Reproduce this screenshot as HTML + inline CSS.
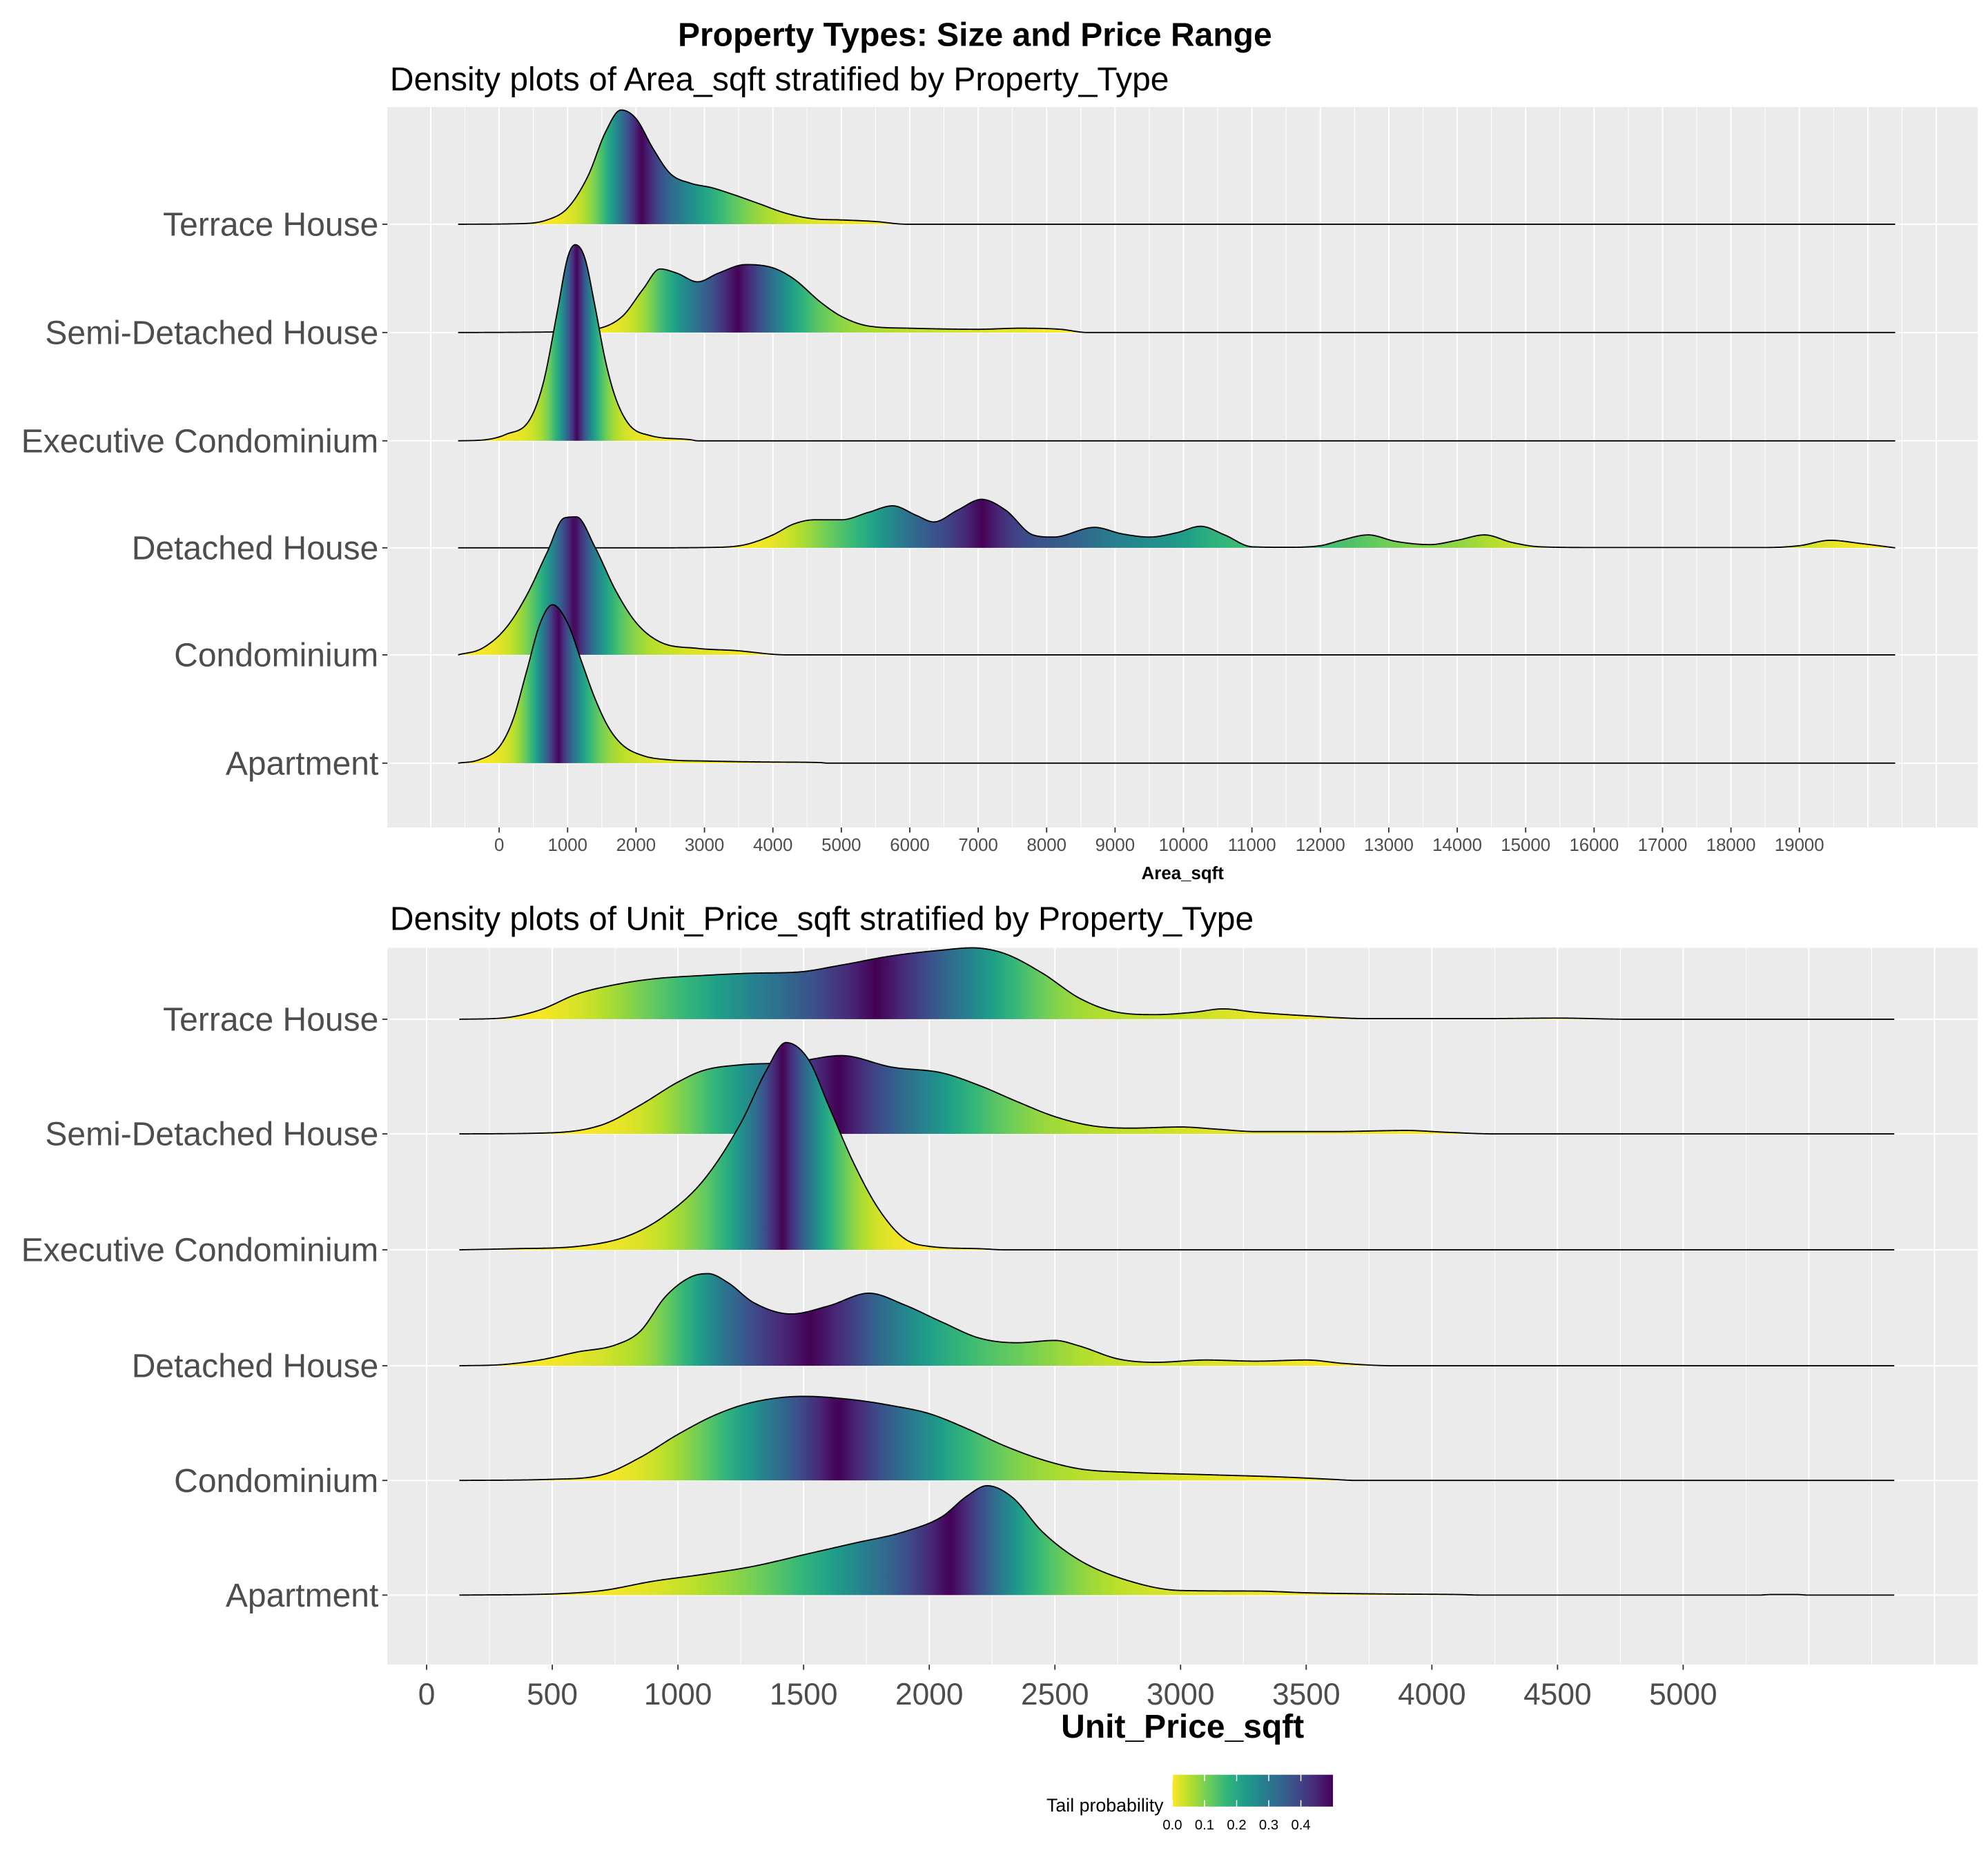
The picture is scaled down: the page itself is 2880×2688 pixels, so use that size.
<!DOCTYPE html>
<html><head><meta charset="utf-8"><title>Property Types: Size and Price Range</title>
<style>html,body{margin:0;padding:0;background:#fff}svg{display:block}text{font-family:"Liberation Sans",Arial,sans-serif}</style>
</head><body>
<svg id="chart" xmlns="http://www.w3.org/2000/svg" width="2880" height="2688" viewBox="0 0 1560 1456" preserveAspectRatio="none">
<text x="765" y="36" font-size="26" font-weight="bold" text-anchor="middle">Property Types: Size and Price Range</text>
<text x="306" y="71" font-size="26">Density plots of Area_sqft stratified by Property_Type</text>
<text x="306" y="730" font-size="26">Density plots of Unit_Price_sqft stratified by Property_Type</text>
<g id="p1"></g>
<g id="p2"></g>
<g id="legend">
<defs><linearGradient id="lgbar" x1="0" x2="1" y1="0" y2="0">
<stop offset="0" stop-color="#FDE725"/><stop offset="0.111" stop-color="#B4DE2C"/><stop offset="0.222" stop-color="#6DCD59"/><stop offset="0.333" stop-color="#35B779"/><stop offset="0.444" stop-color="#1F9E89"/><stop offset="0.556" stop-color="#26828E"/><stop offset="0.667" stop-color="#31688E"/><stop offset="0.778" stop-color="#3E4A89"/><stop offset="0.889" stop-color="#482878"/><stop offset="1" stop-color="#440154"/></linearGradient></defs>
<text x="913" y="1422" font-size="14.5" text-anchor="end">Tail probability</text>
<rect x="920" y="1393" width="126" height="25" fill="url(#lgbar)"/>
<g id="legticks"></g>
</g>
</svg>
<script>
// ---------- data ----------
const categories = ["Terrace House","Semi-Detached House","Executive Condominium","Detached House","Condominium","Apartment"];
const areaTicks = [0,1000,2000,3000,4000,5000,6000,7000,8000,9000,10000,11000,12000,13000,14000,15000,16000,17000,18000,19000];
const priceTicks = [0,500,1000,1500,2000,2500,3000,3500,4000,4500,5000];
const legendTicks = [0.0,0.1,0.2,0.3,0.4];
// density curves [value, relative height (1 = row spacing)]
const areaTerrace = [[-600,0],[300,0.005],[700,0.04],[1000,0.15],[1300,0.45],[1550,0.85],[1780,1.06],[2000,0.98],[2250,0.7],[2500,0.47],[2800,0.38],[3100,0.34],[3400,0.28],[3800,0.19],[4200,0.1],[4600,0.05],[5000,0.04],[5500,0.025],[5950,0],[20400,0]];
const areaSemi = [[-600,0],[800,0.005],[1400,0.03],[1800,0.15],[2100,0.4],[2350,0.59],[2600,0.55],[2900,0.47],[3200,0.55],[3600,0.63],[4000,0.6],[4300,0.5],[4700,0.28],[5000,0.15],[5400,0.06],[6000,0.04],[7000,0.03],[7600,0.04],[8200,0.03],[8600,0],[20400,0]];
const areaExec = [[-600,0],[-200,0.01],[100,0.06],[450,0.2],[650,0.55],[850,1.2],[1000,1.7],[1110,1.82],[1250,1.7],[1400,1.25],[1550,0.75],[1700,0.4],[1900,0.15],[2200,0.05],[2800,0.01],[2900,0],[20400,0]];
const areaDetached = [[-600,0],[2000,0],[3200,0.005],[3600,0.03],[4000,0.12],[4300,0.22],[4600,0.26],[5000,0.26],[5400,0.33],[5750,0.39],[6100,0.3],[6350,0.24],[6700,0.35],[7050,0.45],[7400,0.35],[7800,0.12],[8100,0.1],[8700,0.19],[9100,0.13],[9500,0.1],[9900,0.14],[10250,0.2],[10600,0.12],[11000,0.01],[11500,0.005],[12000,0.02],[12300,0.07],[12700,0.12],[13100,0.06],[13600,0.03],[14000,0.07],[14400,0.12],[14800,0.05],[15200,0.01],[16000,0.003],[18500,0.003],[19000,0.02],[19450,0.07],[19900,0.04],[20400,0]];
const areaCondo = [[-600,0],[-250,0.06],[100,0.25],[400,0.55],[700,0.95],[950,1.27],[1130,1.28],[1400,1.0],[1700,0.6],[2000,0.3],[2350,0.12],[2900,0.06],[3450,0.04],[4200,0],[20400,0]];
const areaApartment = [[-600,0],[-300,0.03],[0,0.15],[200,0.4],[400,0.85],[600,1.3],[780,1.47],[1000,1.3],[1200,0.95],[1400,0.6],[1600,0.33],[1800,0.17],[2100,0.07],[2500,0.03],[3000,0.02],[4000,0.01],[4700,0.005],[4800,0],[20400,0]];
const priceTerrace = [[130,0],[300,0.01],[450,0.08],[600,0.22],[750,0.3],[900,0.35],[1100,0.38],[1300,0.4],[1480,0.41],[1650,0.47],[1850,0.55],[2050,0.6],[2170,0.62],[2300,0.57],[2450,0.4],[2600,0.18],[2750,0.06],[2900,0.04],[3050,0.06],[3170,0.09],[3300,0.06],[3500,0.03],[3750,0.005],[4200,0.005],[4500,0.01],[4780,0],[5840,0]];
const priceSemi = [[130,0],[500,0.01],[700,0.08],[850,0.25],[1000,0.45],[1100,0.55],[1250,0.6],[1450,0.62],[1650,0.68],[1850,0.58],[2050,0.53],[2200,0.42],[2350,0.28],[2500,0.15],[2650,0.07],[2800,0.05],[3000,0.06],[3150,0.04],[3300,0.02],[3600,0.02],[3900,0.03],[4050,0.015],[4250,0],[5840,0]];
const priceExec = [[130,0],[350,0.01],[600,0.03],[800,0.12],[950,0.3],[1100,0.6],[1250,1.1],[1350,1.55],[1430,1.8],[1520,1.65],[1600,1.25],[1700,0.75],[1800,0.35],[1900,0.1],[2000,0.03],[2200,0.01],[2300,0],[5840,0]];
const priceDetached = [[130,0],[300,0.01],[450,0.05],[600,0.12],[750,0.18],[850,0.3],[950,0.6],[1050,0.77],[1120,0.8],[1200,0.72],[1300,0.55],[1450,0.45],[1600,0.52],[1760,0.63],[1900,0.53],[2050,0.38],[2200,0.24],[2350,0.2],[2500,0.22],[2600,0.17],[2750,0.06],[2900,0.03],[3100,0.05],[3300,0.04],[3500,0.05],[3650,0.02],[3850,0],[5840,0]];
const priceCondo = [[130,0],[500,0.01],[700,0.05],[850,0.2],[1000,0.4],[1150,0.57],[1300,0.68],[1500,0.73],[1700,0.7],[1850,0.65],[2000,0.58],[2150,0.45],[2300,0.3],[2450,0.18],[2600,0.1],[2800,0.07],[3100,0.05],[3400,0.03],[3600,0.01],[3700,0],[5840,0]];
const priceApartment = [[130,0],[500,0.01],[700,0.04],[900,0.12],[1100,0.18],[1300,0.25],[1500,0.35],[1700,0.45],[1900,0.55],[2050,0.68],[2150,0.86],[2230,0.95],[2330,0.85],[2450,0.55],[2600,0.3],[2800,0.12],[3000,0.04],[3300,0.035],[3500,0.02],[3800,0.01],[4100,0.005],[4200,0],[5300,0],[5350,0.005],[5450,0.005],[5500,0],[5840,0]];
const areaSeries = [areaTerrace,areaSemi,areaExec,areaDetached,areaCondo,areaApartment];
const priceSeries = [priceTerrace,priceSemi,priceExec,priceDetached,priceCondo,priceApartment];

// ---------- rendering ----------
const NS = "http://www.w3.org/2000/svg";
const VIR = ["#440154","#482878","#3E4A89","#31688E","#26828E","#1F9E89","#35B779","#6DCD59","#B4DE2C","#FDE725"];
function mk(tag, attrs, parent){const e=document.createElementNS(NS,tag);for(const k in attrs)e.setAttribute(k,attrs[k]);parent.appendChild(e);return e;}
function hex2rgb(h){return [parseInt(h.substr(1,2),16),parseInt(h.substr(3,2),16),parseInt(h.substr(5,2),16)];}
function viridisTail(t){
  let u = 1 - Math.max(0,Math.min(0.5,t))/0.5; u*=9;
  const i=Math.min(8,Math.floor(u)), f=u-i; const a=hex2rgb(VIR[i]), b=hex2rgb(VIR[i+1]);
  return "rgb("+a.map((v,k)=>Math.round(v+(b[k]-v)*f)).join(",")+")";
}
// monotone cubic (Fritsch-Carlson) interpolation
function monotone(pts){
  const n=pts.length, xs=pts.map(p=>p[0]), ys=pts.map(p=>p[1]);
  const d=[],m=new Array(n).fill(0);
  for(let i=0;i<n-1;i++) d.push((ys[i+1]-ys[i])/(xs[i+1]-xs[i]));
  m[0]=d[0]; m[n-1]=d[n-2];
  for(let i=1;i<n-1;i++){ m[i]=(d[i-1]*d[i]<=0)?0:(d[i-1]+d[i])/2; }
  for(let i=0;i<n-1;i++){
    if(d[i]===0){m[i]=0;m[i+1]=0;continue;}
    const a=m[i]/d[i], b=m[i+1]/d[i], s=a*a+b*b;
    if(s>9){const t=3/Math.sqrt(s); m[i]=t*a*d[i]; m[i+1]=t*b*d[i];}
  }
  return function(v){
    let k=0; while(k<n-2 && xs[k+1]<v) k++;
    const h=xs[k+1]-xs[k], t=(v-xs[k])/h, t2=t*t, t3=t2*t;
    return Math.max(0,(2*t3-3*t2+1)*ys[k]+(t3-2*t2+t)*h*m[k]+(-2*t3+3*t2)*ys[k+1]+(t3-t2)*h*m[k+1]);
  };
}
const defs = mk("defs",{},document.getElementById("chart"));
let gid=0;

function drawPanel(g, cfg){
  const {left,right,top,bottom,x0,x1,xpx0,xpx1,rows,spacing,minorStep,majorStep,gridFrom,gridTo,ticks,tickSize,title,titleSize,titleY,tickY,series,prefix}=cfg;
  const sx = v => xpx0 + (v - x0)/(x1 - x0)*(xpx1 - xpx0);
  mk("rect",{x:left,y:top,width:right-left,height:bottom-top,fill:"#EBEBEB",},g);
  for(let v=gridFrom; v<=gridTo+1e-9; v+=minorStep){
    const X=sx(v); if(X<left||X>right) continue;
    const major = Math.abs(v/majorStep - Math.round(v/majorStep))<1e-6;
    const ln=mk("line",{x1:X,x2:X,y1:top,y2:bottom,stroke:"#fff","stroke-width":major?1.1:0.55},g);
    
    
  }
  rows.forEach((by,i)=>{
    const ln=mk("line",{x1:left,x2:right,y1:by,y2:by,stroke:"#fff","stroke-width":1.1},g);
    
    
    const tk=mk("line",{x1:left-4,x2:left,y1:by,y2:by,stroke:"#333","stroke-width":1},g);
    
    
    const t=mk("text",{x:left-7,y:by+9,"font-size":26,fill:"#4D4D4D","text-anchor":"end"},g);
    t.textContent=categories[i];
    
    
  });
  series.forEach((pts,i)=>{
    const by=rows[i];
    const f=monotone(pts);
    const a0=pts[0][0], a1=pts[pts.length-1][0], N=800;
    const vs=[],hs=[];
    for(let s=0;s<=N;s++){const v=a0+(a1-a0)*s/N; vs.push(v); hs.push(f(v));}
    const cum=[0]; for(let k=1;k<=N;k++) cum.push(cum[k-1]+(hs[k]+hs[k-1])/2);
    const tot=cum[N];
    const id="rg"+(gid++);
    const lg=mk("linearGradient",{id:id,gradientUnits:"userSpaceOnUse",x1:sx(a0),x2:sx(a1),y1:0,y2:0},defs);
    for(let s=0;s<=N;s+=2){
      const F=cum[s]/tot;
      mk("stop",{offset:s/N,"stop-color":viridisTail(0.5-Math.abs(F-0.5))},lg);
    }
    let d="M"+sx(a0).toFixed(2)+","+by;
    for(let s=0;s<=N;s++) d+=" L"+sx(vs[s]).toFixed(2)+","+(by-hs[s]*spacing).toFixed(2);
    d+=" L"+sx(a1).toFixed(2)+","+by;
    const fillp=mk("path",{d:d+" Z",fill:"url(#"+id+")",stroke:"none"},g);
    
    
    const line=mk("path",{d:d,fill:"none",stroke:"#000","stroke-width":1,"stroke-linejoin":"round"},g);
    
    
  });
  ticks.forEach(v=>{
    const X=sx(v);
    const tk=mk("line",{x1:X,x2:X,y1:bottom,y2:bottom+4,stroke:"#333","stroke-width":1},g);
    
    
    const t=mk("text",{x:X,y:tickY,"font-size":tickSize,fill:"#4D4D4D","text-anchor":"middle"},g);
    t.textContent=String(v);
    
    
  });
  const at=mk("text",{x:(left+right)/2,y:titleY,"font-size":titleSize,"font-weight":"bold","text-anchor":"middle"},g);
  at.textContent=title;
  
  
}

drawPanel(document.getElementById("p1"),{
  left:304,right:1552,top:84,bottom:649.5,x0:0,x1:19000,xpx0:391.7,xpx1:391.7+19*53.7,
  rows:[176,261,346,430,514,599],spacing:84.6,minorStep:500,majorStep:1000,gridFrom:-1000,gridTo:21000,
  ticks:areaTicks,tickSize:14,title:"Area_sqft",titleSize:14,titleY:690,tickY:668,series:areaSeries,prefix:"area"});
drawPanel(document.getElementById("p2"),{
  left:304,right:1552,top:744,bottom:1306.6,x0:0,x1:5000,xpx0:334.8,xpx1:334.8+10*98.6,
  rows:[800,890,981,1072,1162,1252],spacing:90.4,minorStep:250,majorStep:500,gridFrom:-250,gridTo:6000,
  ticks:priceTicks,tickSize:24,title:"Unit_Price_sqft",titleSize:26,titleY:1364,tickY:1338,series:priceSeries,prefix:"price"});

const lt=document.getElementById("legticks");
legendTicks.forEach(v=>{
  const X=920+v/0.5*126;
  const a=mk("line",{x1:X,x2:X,y1:1393,y2:1398,stroke:"#fff","stroke-width":0.8},lt);
  
  
  const b=mk("line",{x1:X,x2:X,y1:1413,y2:1418,stroke:"#fff","stroke-width":0.8},lt);
  
  
  const t=mk("text",{x:X,y:1436,"font-size":11,"text-anchor":"middle"},lt);
  t.textContent=v.toFixed(1);
  
  
});
</script>
</body></html>
